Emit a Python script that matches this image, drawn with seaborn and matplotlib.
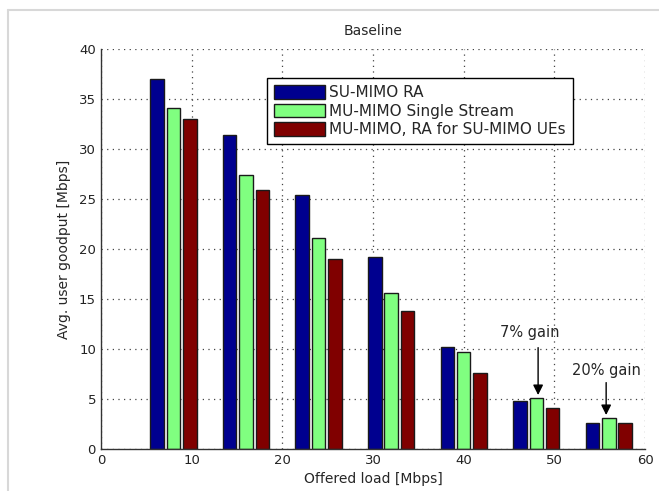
import numpy as np
import pandas as pd
import seaborn as sns
import matplotlib.pyplot as plt
from matplotlib.lines import Line2D

# offered load groups [Mbps] and goodput per scheme [Mbps]
offered_load = [8, 16, 24, 32, 40, 48, 56]
su_mimo_ra = [37.0, 31.4, 25.4, 19.2, 10.2, 4.75, 2.6]
mu_mimo_single = [34.1, 27.4, 21.1, 15.6, 9.7, 5.1, 3.1]
mu_mimo_ra = [33.0, 25.9, 19.0, 13.8, 7.6, 4.1, 2.6]

schemes = ["SU-MIMO RA", "MU-MIMO Single Stream", "MU-MIMO, RA for SU-MIMO UEs"]
colors = ["#00008F", "#80FF80", "#800000"]

##===================BUILD LONG DATAFRAME===================##
frames = []
for name, vals in zip(schemes, [su_mimo_ra, mu_mimo_single, mu_mimo_ra]):
    frames.append(pd.DataFrame({"load": offered_load, "goodput": vals, "scheme": name}))
df = pd.concat(frames, ignore_index=True)

##===================PLOT===================##
sns.set_style("white")
plt.rcParams["font.family"] = ["DejaVu Sans"]

fig = plt.figure(figsize=(6.59, 4.91), dpi=100)
ax = fig.add_axes([0.153, 0.086, 0.826, 0.814])

sns.barplot(data=df, x="load", y="goodput", hue="scheme", hue_order=schemes,
            palette=colors, native_scale=True, width=0.675, gap=0.17,
            errorbar=None, saturation=1, edgecolor="#1a1a1a", linewidth=1,
            ax=ax)

ax.set_xlim(0, 60)
ax.set_ylim(0, 40)
ax.set_xticks(np.arange(0, 61, 10))
ax.set_yticks(np.arange(0, 41, 5))
ax.tick_params(direction="in", length=3, labelsize=9.5, colors="#222222")
ax.grid(True, linestyle=(0, (1, 3.5)), color="#444444", linewidth=0.9)
ax.set_axisbelow(True)
for s in ["top", "right"]:
    ax.spines[s].set_visible(False)
for s in ["left", "bottom"]:
    ax.spines[s].set_color("#333333")
    ax.spines[s].set_linewidth(1)

ax.set_title("Baseline", fontsize=10, pad=10)
ax.set_xlabel("Offered load [Mbps]", fontsize=10)
ax.set_ylabel("Avg. user goodput [Mbps]", fontsize=10, labelpad=6)

handles, labels = ax.get_legend_handles_labels()
ax.legend(handles, labels, loc="upper left", bbox_to_anchor=(0.305, 0.927),
          borderaxespad=0, fancybox=False, framealpha=1, edgecolor="black",
          fontsize=11, handlelength=3.35, handleheight=1.0, handletextpad=0.3,
          labelspacing=0.22, borderpad=0.45)

# gain annotations
arrow = dict(arrowstyle="-|>", color="black", lw=1, mutation_scale=15)
ax.annotate("", xy=(48.2, 5.1), xytext=(48.2, 10.4), arrowprops=arrow)
ax.text(47.3, 11.6, "7% gain", ha="center", va="center", fontsize=10.5)
ax.annotate("", xy=(55.7, 3.1), xytext=(55.7, 6.9), arrowprops=arrow)
ax.text(55.7, 7.8, "20% gain", ha="center", va="center", fontsize=10.5)

# light frame around the figure like the screenshot
fig.add_artist(Line2D([8 / 659, 1], [1 - 10 / 491, 1 - 10 / 491], color="#d8d8d8", lw=1.5))
fig.add_artist(Line2D([8 / 659, 8 / 659], [0, 1 - 10 / 491], color="#d8d8d8", lw=1.5))

fig.savefig("out.png", dpi=100)
